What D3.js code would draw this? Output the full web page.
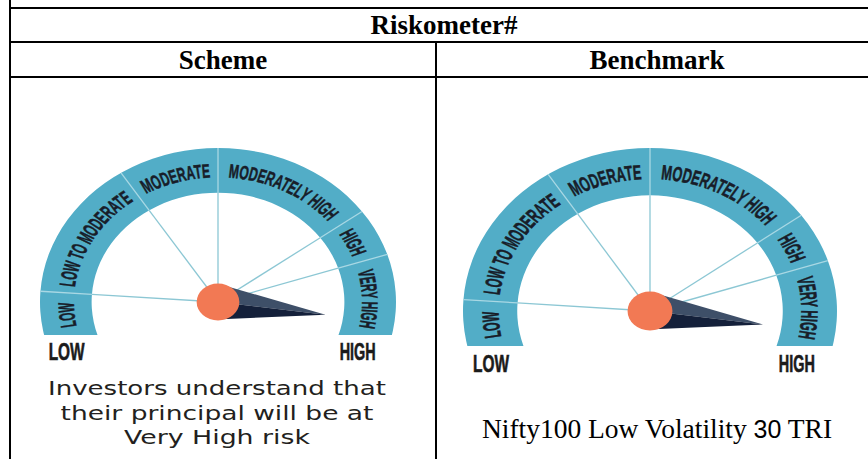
<!DOCTYPE html>
<html>
<head>
<meta charset="utf-8">
<script src="https://cdn.jsdelivr.net/npm/d3@7"></script>
<style>
  body { margin: 0; background: #fff; }
  svg { display: block; }
</style>
</head>
<body>
<div id="chart"></div>
<script>
var W = 868, H = 459;

// riskometer bands, low to very high
var riskLabels = ["LOW", "LOW TO MODERATE", "MODERATE", "MODERATELY HIGH", "HIGH", "VERY HIGH"];
// band edges on a 0..6 level axis
var riskLevels = [0, 1, 2, 3, 4, 5, 6];
var panels = ["Scheme", "Benchmark"];
// where each needle points (both inside VERY HIGH)
var pointerLevel = [5.6, 5.6];
var endLabels = ["LOW", "HIGH"];
var schemeNote = ["Investors understand that", "their principal will be at", "Very High risk"];
var benchmarkName = ["Nifty100 Low Volatility ", "30", " TRI"];

var svg = d3.select("#chart").append("svg")
    .attr("width", W)
    .attr("height", H);

svg.append("rect").attr("width", W).attr("height", H).attr("fill", "#fff");

// ---- table frame ----
var tableL = 10, tableR = 878, midX = 436;
var rowY = [8, 42, 77];

svg.selectAll("line.hrow")
    .data(rowY).enter()
    .append("line")
    .attr("class", "hrow")
    .attr("x1", tableL).attr("x2", W)
    .attr("y1", function(d) { return d; })
    .attr("y2", function(d) { return d; })
    .attr("stroke", "#000")
    .attr("stroke-width", 2);

svg.append("line")
    .attr("x1", tableL).attr("x2", tableL)
    .attr("y1", 0).attr("y2", H)
    .attr("stroke", "#000").attr("stroke-width", 2);

svg.append("line")
    .attr("x1", midX).attr("x2", midX)
    .attr("y1", rowY[1]).attr("y2", H)
    .attr("stroke", "#000").attr("stroke-width", 2);

svg.append("text")
    .attr("x", (tableL + tableR) / 2)
    .attr("y", 34)
    .attr("text-anchor", "middle")
    .attr("font-family", "'Liberation Serif', 'Times New Roman', serif")
    .attr("font-weight", "bold")
    .attr("font-size", "27px")
    .text("Riskometer#");

var colCenters = [(tableL + midX) / 2, (midX + tableR) / 2];

svg.selectAll("text.head")
    .data(panels).enter()
    .append("text")
    .attr("class", "head")
    .attr("x", function(d, i) { return colCenters[i]; })
    .attr("y", 69)
    .attr("text-anchor", "middle")
    .attr("font-family", "'Liberation Serif', 'Times New Roman', serif")
    .attr("font-weight", "bold")
    .attr("font-size", "27px")
    .text(function(d) { return d; });

// ---- gauges ----
var angle = d3.scaleLinear()
    .domain(riskLevels)
    .range([-115, -86, -33, 0, 54, 72, 115]);   // degrees, 0 = straight up

var rad = function(deg) { return deg * Math.PI / 180; };
var R = 100, r0 = 71, textR = 81, cutY = 21.5;

var gauges = [
    { cx: 218, cy: 302, sx: 1.78, sy: 1.54 },
    { cx: 650, cy: 311, sx: 1.87, sy: 1.63 }
];

var defs = svg.append("defs");
defs.append("clipPath").attr("id", "cut")
    .append("rect")
    .attr("x", -130).attr("y", -130)
    .attr("width", 260).attr("height", 130 + cutY);

var band = d3.arc()
    .innerRadius(r0)
    .outerRadius(R)
    .startAngle(rad(angle(0)))
    .endAngle(rad(angle(6)));

var limit = 90 + Math.asin(cutY / textR) * 180 / Math.PI;

gauges.forEach(function(gp, gi) {
    var g = svg.append("g")
        .attr("transform", "translate(" + gp.cx + "," + gp.cy + ") scale(" + gp.sx + "," + gp.sy + ")");

    g.append("path")
        .attr("d", band())
        .attr("fill", "#52adc7")
        .attr("clip-path", "url(#cut)");

    // separators between bands
    var inner = riskLevels.slice(1, 6);
    g.selectAll("line.sepIn")
        .data(inner).enter()
        .append("line")
        .attr("x1", 0).attr("y1", 0)
        .attr("x2", function(d) { return r0 * Math.sin(rad(angle(d))); })
        .attr("y2", function(d) { return -r0 * Math.cos(rad(angle(d))); })
        .attr("stroke", "#8cc7d4")
        .attr("stroke-width", 1.3)
        .attr("vector-effect", "non-scaling-stroke");

    g.selectAll("line.sepOut")
        .data(inner).enter()
        .append("line")
        .attr("x1", function(d) { return r0 * Math.sin(rad(angle(d))); })
        .attr("y1", function(d) { return -r0 * Math.cos(rad(angle(d))); })
        .attr("x2", function(d) { return R * Math.sin(rad(angle(d))); })
        .attr("y2", function(d) { return -R * Math.cos(rad(angle(d))); })
        .attr("stroke", "#a9d8e4")
        .attr("stroke-width", 1.3)
        .attr("vector-effect", "non-scaling-stroke");

    // band labels along the arc
    riskLabels.forEach(function(lbl, i) {
        var a0 = Math.max(angle(i), -limit), a1 = Math.min(angle(i + 1), limit);
        var mid = (a0 + a1) / 2;
        var id = "lp" + gi + "_" + i;
        var p = d3.path();
        var s = rad(mid - 70 - 90), e = rad(mid + 70 - 90);
        p.moveTo(textR * Math.cos(s), textR * Math.sin(s));
        p.arc(0, 0, textR, s, e, false);
        defs.append("path").attr("id", id).attr("d", p.toString());

        var t = g.append("text")
            .attr("font-family", "'Liberation Sans', Arial, sans-serif")
            .attr("font-weight", "bold")
            .attr("font-size", 12.5)
            .attr("fill", "#181d29")
            .attr("stroke", "#181d29")
            .attr("stroke-width", 0.35);
        var tp = t.append("textPath")
            .attr("href", "#" + id)
            .attr("startOffset", "50%")
            .attr("text-anchor", "middle")
            .text(lbl);
        var w = t.node().getComputedTextLength();
        tp.attr("textLength", w * 0.54).attr("lengthAdjust", "spacingAndGlyphs");
    });

    // needle
    var phi = rad(angle(pointerLevel[gi]));
    var ux = Math.sin(phi), uy = -Math.cos(phi);
    var nx = Math.cos(phi), ny = Math.sin(phi);
    var tip = [61 * ux, 61 * uy], hw = 11.5;
    g.append("path")
        .attr("d", "M0,0L" + (-hw * nx) + "," + (-hw * ny) + "L" + tip[0] + "," + tip[1] + "Z")
        .attr("fill", "#3e4f68");
    g.append("path")
        .attr("d", "M0,0L" + (hw * nx) + "," + (hw * ny) + "L" + tip[0] + "," + tip[1] + "Z")
        .attr("fill", "#14203a");

    g.append("circle")
        .attr("r", 12)
        .attr("fill", "#f27954");

    // LOW / HIGH under the dial
    svg.selectAll("text.end" + gi)
        .data(endLabels).enter()
        .append("text")
        .attr("class", "end" + gi)
        .attr("x", function(d, i) { return gp.cx + (i === 0 ? -85 : 78.5) * gp.sx; })
        .attr("y", gp.cy + 37.5 * gp.sy)
        .attr("text-anchor", "middle")
        .attr("font-family", "'Liberation Sans Narrow', 'Liberation Sans', sans-serif")
        .attr("font-weight", "bold")
        .attr("font-size", "23px")
        .attr("fill", "#1b1b1b")
        .attr("stroke", "#1b1b1b")
        .attr("stroke-width", 0.6)
        .attr("textLength", 36)
        .attr("lengthAdjust", "spacingAndGlyphs")
        .text(function(d) { return d; });
});

// ---- captions ----
var noteWidths = [338, 313, 186];
svg.selectAll("text.note")
    .data(schemeNote).enter()
    .append("text")
    .attr("class", "note")
    .attr("x", 217)
    .attr("y", function(d, i) { return 395 + i * 24.5; })
    .attr("text-anchor", "middle")
    .attr("font-family", "'DejaVu Sans', sans-serif")
    .attr("font-size", "19.5px")
    .attr("fill", "#231f20")
    .attr("textLength", function(d, i) { return noteWidths[i]; })
    .attr("lengthAdjust", "spacingAndGlyphs")
    .text(function(d) { return d; });

var bench = svg.append("text")
    .attr("x", colCenters[1])
    .attr("y", 438)
    .attr("text-anchor", "middle")
    .attr("font-family", "'Liberation Serif', 'Times New Roman', serif")
    .attr("font-size", "27.5px")
    .attr("fill", "#000");

bench.selectAll("tspan")
    .data(benchmarkName).enter()
    .append("tspan")
    .attr("font-family", function(d, i) {
        return i === 1 ? "'Liberation Sans', Arial, sans-serif" : null;
    })
    .attr("font-size", function(d, i) { return i === 1 ? "25px" : null; })
    .text(function(d) { return d; });
</script>
</body>
</html>
